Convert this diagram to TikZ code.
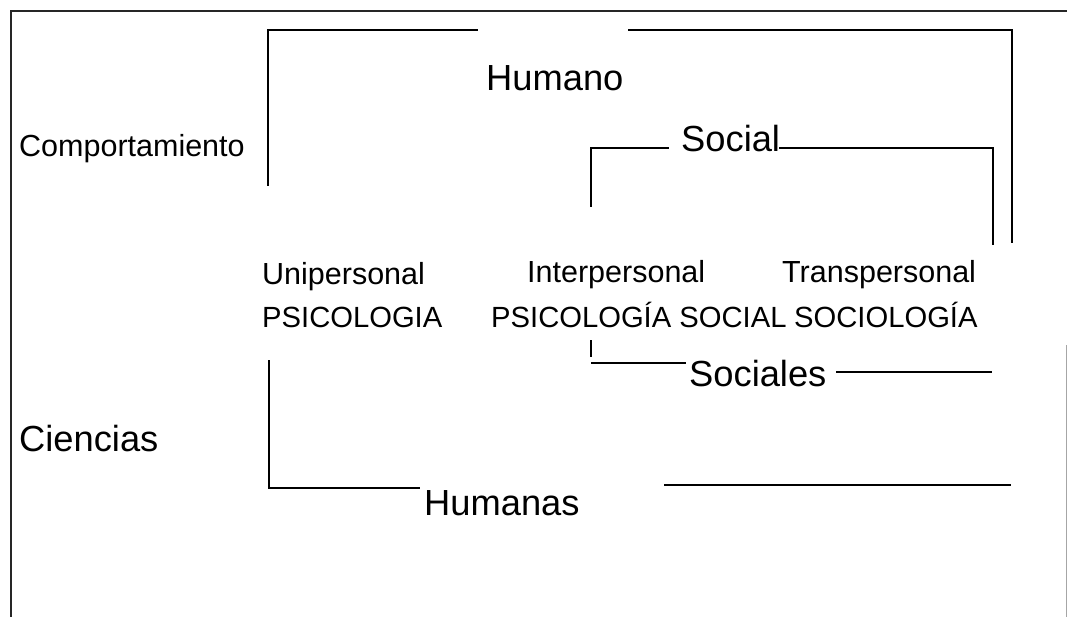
\documentclass[tikz,border=0pt]{standalone}
\usepackage{fontspec}
\setmainfont{Liberation Sans}
\begin{document}
\begin{tikzpicture}[x=1pt,y=-1pt,
  big/.style={inner sep=0pt,anchor=base west,font=\fontsize{36.3}{40}\selectfont},
  mid/.style={inner sep=0pt,anchor=base west,font=\fontsize{30.5}{34}\selectfont},
  caps/.style={inner sep=0pt,anchor=base west,font=\fontsize{29.2}{33}\selectfont},
  bline/.style={draw=black,line width=1.6pt},
  fline/.style={draw=black!85,line width=1.4pt},
  gline/.style={draw=black!35,line width=1pt}]
\useasboundingbox[fill=white] (0,0) rectangle (1067,617);
% text
\node[mid]  (comp)   at (19,157)  {Comportamiento};
\node[big]  (humano) at (486,91)  {Humano};
\node[big]  (social) at (681,152) {Social};
\node[mid]  (uni)    at (262,284) {Unipersonal};
\node[mid]  (inter)  at (527,283) {Interpersonal};
\node[mid]  (trans)  at (782,283) {Transpersonal};
\node[caps] (psi)    at (262,327) {PSICOLOGIA};
\node[caps] (psis)   at (491,327) {PSICOLOGÍA SOCIAL};
\node[caps] (soc)    at (794,327) {SOCIOLOGÍA};
\node[big]  (sociales) at (689,386) {Sociales};
\node[big]  (ciencias) at (19,451) {Ciencias};
\node[big]  (humanas)  at (424,515) {Humanas};
% frame
\coordinate (fbl) at (11,617);
\coordinate (ftl) at (11,11);
\coordinate (ftr) at (1067,11);
\draw[fline] (fbl) -- (ftl) -- (ftr);
\coordinate (rgt) at (1066,345);
\coordinate (rgb) at (1066,617);
\draw[gline] (rgt) -- (rgb);
% Humano bracket
\coordinate (h1) at (268,186);
\coordinate (h2) at (268,30);
\coordinate (h3) at (478,30);
\draw[bline] (h1) -- (h2) -- (h3);
\coordinate (h4) at (628,30);
\coordinate (h5) at (1012,30);
\coordinate (h6) at (1012,243);
\draw[bline] (h4) -- (h5) -- (h6);
% Social bracket
\coordinate (s1) at (591,207);
\coordinate (s2) at (591,148);
\coordinate (s3) at (669,148);
\draw[bline] (s1) -- (s2) -- (s3);
\coordinate (s4) at (779,148);
\coordinate (s5) at (993,148);
\coordinate (s6) at (993,245);
\draw[bline] (s4) -- (s5) -- (s6);
% Sociales bracket
\coordinate (t1) at (591,340);
\coordinate (t2) at (591,357);
\draw[bline] (t1) -- (t2);
\coordinate (t3) at (591,363);
\coordinate (t4) at (686,363);
\draw[bline] (t3) -- (t4);
\coordinate (t5) at (836,372);
\coordinate (t6) at (992,372);
\draw[bline] (t5) -- (t6);
% Humanas bracket
\coordinate (u1) at (269,360);
\coordinate (u2) at (269,488);
\coordinate (u3) at (420,488);
\draw[bline] (u1) -- (u2) -- (u3);
\coordinate (u4) at (664,485);
\coordinate (u5) at (1011,485);
\draw[bline] (u4) -- (u5);
\end{tikzpicture}
\end{document}
